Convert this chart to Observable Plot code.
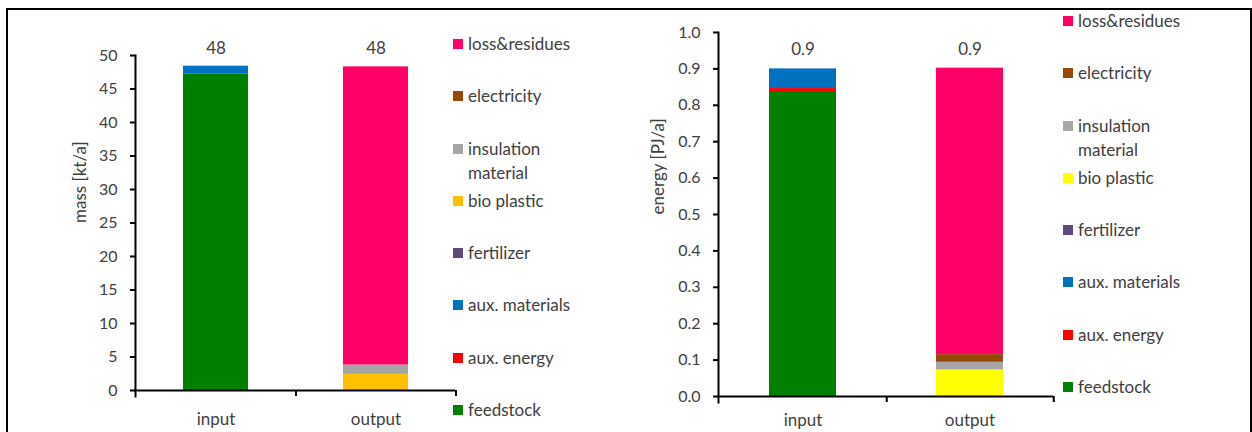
<!DOCTYPE html>
<html><head><meta charset="utf-8">
<script src="https://cdn.jsdelivr.net/npm/d3@7"></script>
<script src="https://cdn.jsdelivr.net/npm/@observablehq/plot@0.6"></script>
<style>
body{margin:0;background:#fff;}
#wrap{position:relative;width:1252px;height:432px;overflow:hidden;font-family:Lato,"Liberation Sans",sans-serif;}
#frame{position:absolute;left:6px;top:8px;width:1242px;height:440px;border:2px solid #000;border-bottom:none;}
.plot{position:absolute;top:0;}
.legend{position:absolute;}
.item{height:52.3px;display:flex;align-items:flex-start;box-sizing:border-box;padding-top:14px;}
.sw{width:10px;height:10px;margin-top:7px;margin-right:5px;flex:none;}
.lab{font-size:17px;line-height:24px;color:#404040;width:122px;}
</style></head>
<body>
<div id="wrap">
  <div id="frame"></div>
  <div id="p1" class="plot" style="left:0px"></div>
  <div id="p2" class="plot" style="left:560px"></div>
  <div id="l1" class="legend" style="left:453px;top:18px"></div>
  <div id="l2" class="legend" style="left:1063px;top:-5px"></div>
</div>
<script>
// ---- data ----
const categories = ["input", "output"];
const series = ["feedstock", "aux. energy", "aux. materials", "fertilizer", "bio plastic", "insulation material", "electricity", "loss&residues"];
// mass [kt/a], values in series order
const massInput  = [47.2, 0, 1.2, 0, 0, 0, 0, 0];
const massOutput = [0, 0, 0, 0, 2.4, 1.4, 0, 44.5];
// energy [PJ/a], values in series order
const energyInput  = [0.838, 0.008, 0.054, 0, 0, 0, 0, 0];
const energyOutput = [0, 0, 0, 0, 0.073, 0.021, 0.021, 0.787];
const massTicks = [0, 5, 10, 15, 20, 25, 30, 35, 40, 45, 50];
const energyTicks = [0, 0.1, 0.2, 0.3, 0.4, 0.5, 0.6, 0.7, 0.8, 0.9, 1.0];
const massColors   = ["#008000", "#FF0000", "#0070C0", "#604A7B", "#FFC000", "#A6A6A6", "#974706", "#FF0066"];
const energyColors = ["#008000", "#FF0000", "#0070C0", "#604A7B", "#FFFF00", "#A6A6A6", "#974706", "#FF0066"];
const massLabel = "mass [kt/a]";
const energyLabel = "energy [PJ/a]";

const textColor = "#404040";

function chart({values, ticks, colors, label, tickFmt, totalFmt, domain, width, mL, mR, mT, mB, pInner, pOuter, half, labelDx, xPad, totalDy}) {
  const rows = categories.flatMap((c, ci) => series.map((s, si) => ({category: c, series: s, value: values[ci][si]})));
  const totals = categories.map((c, ci) => ({category: c, total: d3.sum(values[ci])}));
  return Plot.plot({
    width, height: 432,
    marginLeft: mL, marginRight: mR, marginTop: mT, marginBottom: mB,
    style: {fontFamily: "Lato, 'Liberation Sans', sans-serif", fontSize: "16px", color: textColor, background: "transparent", overflow: "visible"},
    x: {domain: categories, paddingInner: pInner, paddingOuter: pOuter, label: null},
    y: {domain, label: null},
    color: {domain: series, range: colors},
    marks: [
      Plot.barY(rows, {x: "category", y: "value", fill: "series", order: null}),
      Plot.axisY({ticks, tickSize: 5, tickPadding: 13, tickFormat: tickFmt, label: null, stroke: "#000", strokeWidth: 2, fill: textColor, fontSize: 16}),
      Plot.axisX({tickSize: 0, tickPadding: xPad, label: null, fill: textColor, fontSize: 17}),
      Plot.frame({anchor: "left", stroke: "#000", strokeWidth: 2, insetBottom: -6}),
      Plot.ruleY([0], {stroke: "#000", strokeWidth: 2, insetLeft: -1}),
      Plot.ruleX(categories, {x: d => d, dx: half, y1: 0, y2: 0, insetBottom: -6, stroke: "#000", strokeWidth: 2}),
      Plot.text(totals, {x: "category", y: "total", text: d => totalFmt(d.total), dy: totalDy, fill: textColor, fontSize: 17}),
      Plot.text([label], {text: d => d, frameAnchor: "left", rotate: -90, dx: labelDx, fill: textColor, fontSize: 17})
    ]
  });
}

document.getElementById("p1").append(chart({
  values: [massInput, massOutput], ticks: massTicks, colors: massColors, label: massLabel,
  tickFmt: d3.format("d"), totalFmt: d3.format(".0f"), domain: [0, 50],
  width: 470, mL: 135, mR: 15, mT: 55, mB: 42, pInner: 0.594, pOuter: 0.297, half: 80, labelDx: -55, xPad: 22, totalDy: -18
}));
document.getElementById("p2").append(chart({
  values: [energyInput, energyOutput], ticks: energyTicks, colors: energyColors, label: energyLabel,
  tickFmt: d3.format(".1f"), totalFmt: d3.format(".1f"), domain: [0, 1],
  width: 510, mL: 158, mR: 17, mT: 32, mB: 36, pInner: 0.6, pOuter: 0.3, half: 83.75, labelDx: -60, xPad: 17, totalDy: -19
}));

function legend(el, colors) {
  const order = series.map((s, i) => i).reverse();
  for (const i of order) {
    const item = document.createElement("div");
    item.className = "item";
    const sw = document.createElement("div");
    sw.className = "sw";
    sw.style.background = colors[i];
    const lab = document.createElement("div");
    lab.className = "lab";
    lab.textContent = series[i];
    item.append(sw, lab);
    el.append(item);
  }
}
legend(document.getElementById("l1"), massColors);
legend(document.getElementById("l2"), energyColors);
</script>
</body></html>
